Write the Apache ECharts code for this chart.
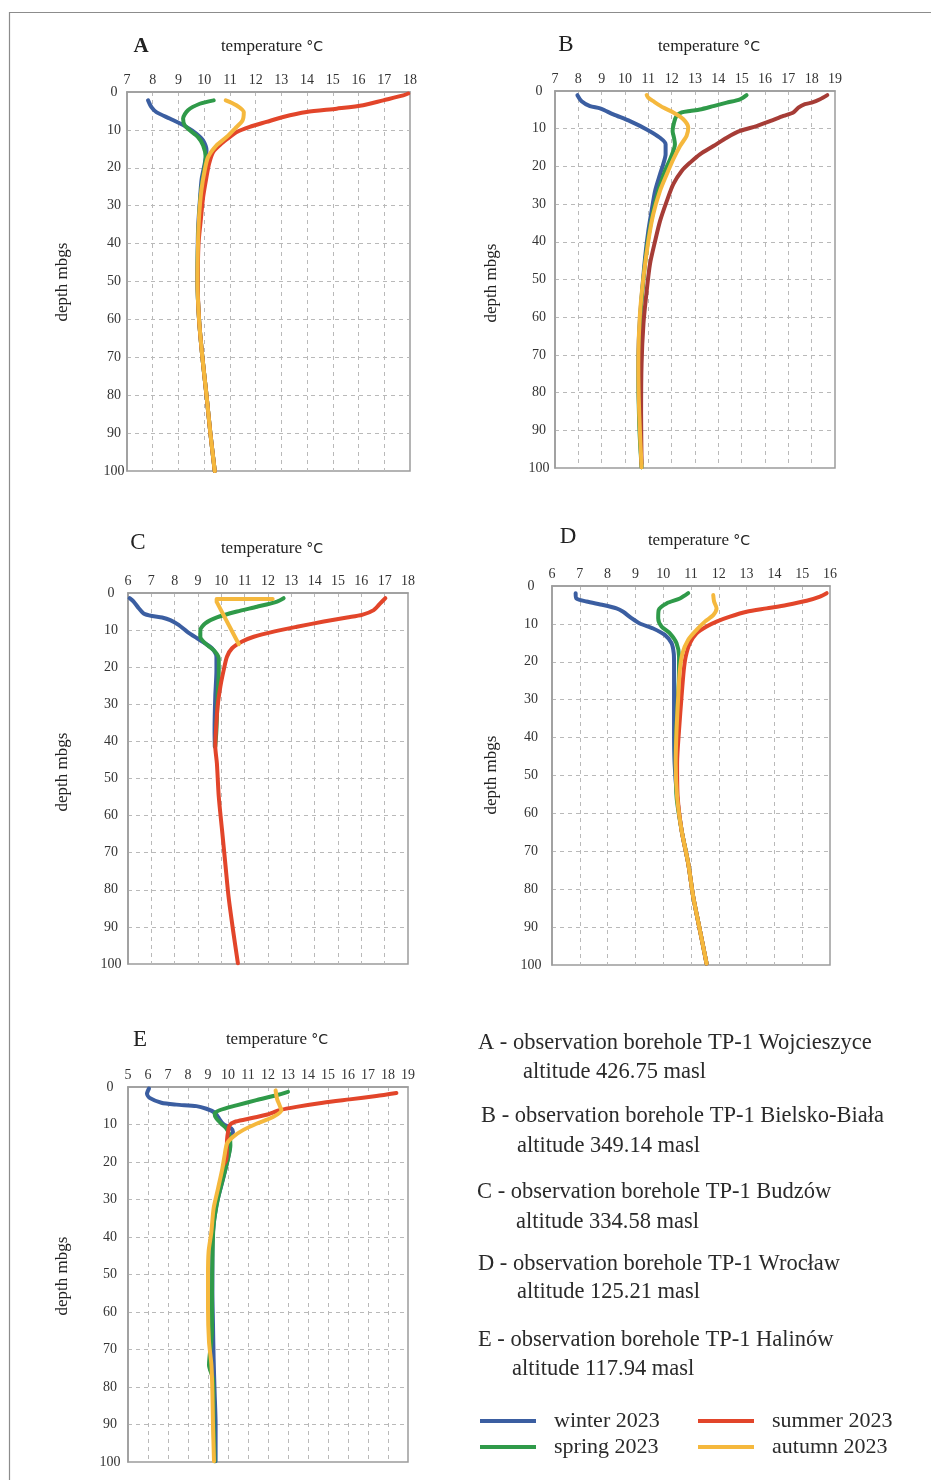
<!DOCTYPE html>
<html>
<head>
<meta charset="utf-8">
<script src="https://cdn.jsdelivr.net/npm/echarts@6/dist/echarts.min.js"></script>
<style>
html,body{margin:0;padding:0;background:#fff;}
#chart{width:931px;height:1480px;}
</style>
</head>
<body>
<div id="chart"></div>
<script>
// ---------- DATA: [temperature °C, depth m] ----------
const seasons = ['winter 2023', 'spring 2023', 'summer 2023', 'autumn 2023'];
const panelLetters = ['A', 'B', 'C', 'D', 'E'];
const xRanges = [[7, 18], [7, 19], [6, 18], [6, 16], [5, 19]];
const depthTicks = [0, 100, 10];

const A_winter = [[7.82,2.2],[7.95,4],[8.14,5.3],[8.66,7],[9.31,9.2],[9.7,11],[9.96,12.8],[10.09,15.4],[10.02,18.9],[9.9,23],[9.84,28],[9.77,35],[9.75,40],[9.74,50],[9.8,60],[9.93,70],[10.09,80],[10.24,90],[10.41,100]];
const A_spring = [[10.37,2.2],[9.83,3.1],[9.37,4.8],[9.18,7],[9.24,8.8],[9.44,10.1],[9.76,11.9],[9.96,14.1],[10.06,17.2],[10.02,19.8],[9.9,25],[9.83,30],[9.76,40],[9.74,50],[9.8,60],[9.93,70],[10.09,80],[10.24,90],[10.41,100]];
const A_summer = [[17.93,0.4],[17.74,0.9],[16.96,2.2],[16.18,3.5],[15.15,4.4],[13.98,5.3],[13.07,6.6],[12.42,7.9],[11.77,9.2],[11.25,10.6],[10.99,11.9],[10.67,13.6],[10.35,15.8],[10.19,18.9],[10.09,22.4],[9.96,27.7],[9.85,35],[9.78,40],[9.75,50],[9.8,60],[9.93,70],[10.09,80],[10.24,90],[10.41,100]];
const A_autumn = [[10.84,2.2],[11.25,3.5],[11.54,5.3],[11.49,7.5],[11.19,9.7],[10.87,11.9],[10.48,14.1],[10.15,17.2],[10.02,20.7],[9.89,26],[9.8,33],[9.76,40],[9.74,50],[9.8,60],[9.93,70],[10.09,80],[10.24,90],[10.41,100]];

const B_winter = [[7.96,1.1],[8.14,2.7],[8.5,4],[8.93,4.6],[9.5,6.2],[10.21,8],[10.93,10.2],[11.5,12.4],[11.74,14.1],[11.74,16.8],[11.64,19.4],[11.5,22.1],[11.29,26.5],[11.14,31.8],[11,37.1],[10.86,44.2],[10.71,54.8],[10.61,63.6],[10.57,72.4],[10.59,81.3],[10.64,90.1],[10.71,99.8]];
const B_spring = [[15.21,1.1],[14.93,2.2],[14.36,3.1],[13.79,4],[13.21,4.9],[12.79,5.3],[12.43,5.7],[12.21,6.6],[12.1,8.4],[12.04,10.6],[12.1,12.4],[12.14,14.1],[11.96,17.7],[11.71,21.2],[11.43,26.5],[11.21,31.8],[11,38.9],[10.82,48],[10.68,58],[10.6,68],[10.58,78],[10.62,90],[10.71,99.8]];
const B_summer = [[18.67,1.1],[18.36,2.2],[18,3.1],[17.71,3.5],[17.43,4.4],[17.21,5.7],[16.79,6.6],[16.21,8],[15.64,9.3],[14.93,10.6],[14.36,12.4],[13.79,14.6],[13.21,16.8],[12.79,19],[12.43,21.2],[12.07,24.7],[11.79,29.2],[11.5,34.5],[11.29,39.8],[11.07,45.9],[10.93,53],[10.79,61.8],[10.71,72.4],[10.69,85.7],[10.71,98.9]];
const B_autumn = [[10.93,1.1],[11,1.8],[11.21,2.7],[11.64,4.4],[12.07,5.7],[12.5,7.5],[12.71,9.7],[12.64,11.9],[12.36,14.6],[12.07,18.1],[11.79,22.1],[11.5,26.5],[11.21,32.7],[11,39.8],[10.79,49.5],[10.64,59.2],[10.57,72.4],[10.61,85.7],[10.71,99.8]];

const C_winter = [[6.07,1.4],[6.24,2.3],[6.46,4.1],[6.67,5.5],[7.03,6.2],[7.46,6.6],[7.81,7.3],[8.17,8.6],[8.53,10.4],[8.96,12.2],[9.31,13.6],[9.6,14.9],[9.79,17.2],[9.79,20.8],[9.74,27.9],[9.71,36.9],[9.72,41.4]];
const C_spring = [[12.67,1.4],[12.39,2.3],[11.53,3.7],[10.67,5],[9.81,6.6],[9.31,8.2],[9.1,10],[9.1,11.8],[9.31,13.6],[9.67,15.4],[9.89,17.6],[9.89,20.8],[9.84,27.9],[9.79,36.9],[9.74,41.4]];
const C_summer = [[17.03,1.4],[16.81,2.8],[16.53,4.6],[16.03,5.9],[15.39,6.6],[14.39,7.7],[13.24,9.1],[12.24,10.4],[11.39,11.8],[10.89,13.1],[10.46,14.9],[10.24,17.2],[10.1,20.8],[9.96,25.2],[9.84,30.6],[9.77,36.9],[9.74,41.4],[9.81,45.9],[9.89,54.9],[10.03,63.9],[10.17,72.9],[10.31,81.9],[10.5,90.8],[10.71,99.8]];
const C_autumn = [[12.2,1.6],[9.8,1.6],[9.8,2.4],[10.75,13.8]];

const D_winter = [[6.85,1.9],[6.88,3.3],[7.24,4.1],[7.84,5],[8.32,5.9],[8.56,6.8],[8.86,8.5],[9.16,9.9],[9.64,11.2],[10.06,12.9],[10.3,15.1],[10.38,17.8],[10.39,20.4],[10.39,29.2],[10.39,38],[10.41,46.8],[10.5,55.6],[10.66,64.4],[10.9,73.2],[11.08,82],[11.32,90.8],[11.56,99.6]];
const D_spring = [[10.9,1.9],[10.6,3.3],[10.12,4.6],[9.84,6.3],[9.82,8.5],[9.94,10.7],[10.24,12.5],[10.48,15.1],[10.57,18.6],[10.56,24.8],[10.5,33.6],[10.45,42.4],[10.48,55.6],[10.66,64.4],[10.9,73.2],[11.08,82],[11.32,90.8],[11.56,99.6]];
const D_summer = [[15.88,1.9],[15.64,2.8],[15.16,3.9],[14.44,5],[13.72,5.9],[13,6.8],[12.4,8.1],[11.92,9.4],[11.56,10.7],[11.2,12.5],[10.96,15.1],[10.81,18.6],[10.74,22.2],[10.66,29.2],[10.57,38],[10.5,46.8],[10.52,55.6],[10.66,64.4],[10.9,73.2],[11.08,82],[11.32,90.8],[11.56,99.6]];
const D_autumn = [[11.8,2.4],[11.83,4.1],[11.92,5.9],[11.8,7.7],[11.5,9.4],[11.2,11.6],[10.9,14.2],[10.69,17.8],[10.6,22.2],[10.54,29.2],[10.48,38],[10.45,46.8],[10.5,55.6],[10.66,64.4],[10.9,73.2],[11.08,82],[11.32,90.8],[11.56,99.6]];

const E_winter = [[6.05,0.4],[5.95,1.8],[6.08,2.9],[6.67,4.2],[7.42,4.7],[8.42,5.1],[8.92,5.8],[9.33,6.8],[9.5,8],[9.75,9.8],[10.17,11.1],[10.25,12],[10.08,13.3],[10.08,16.4],[9.92,20.9],[9.67,26.2],[9.42,31.5],[9.25,38.6],[9.22,45.7],[9.22,54.6],[9.25,63.4],[9.28,72.3],[9.33,81.2],[9.38,90.1],[9.38,99.8]];
const E_spring = [[13,1.3],[12.42,2.2],[11.42,3.5],[10.42,4.9],[9.58,6.2],[9.33,7.1],[9.42,8.4],[9.67,9.8],[9.92,11.1],[10.08,12.9],[10.12,15.5],[10,19.1],[9.75,24.4],[9.5,29.7],[9.28,36.8],[9.22,45.7],[9.2,54.6],[9.2,65],[9.05,74.1],[9.25,78],[9.28,90],[9.33,99.8]];
const E_summer = [[18.42,1.6],[17.42,2.4],[16.08,3.3],[14.75,4.2],[13.42,5.3],[12.58,6.2],[11.92,7.4],[10.92,8.6],[10.33,9.3],[10.08,10.2],[10,12],[9.95,14.2],[9.92,19.1],[9.75,21]];
const E_autumn = [[12.38,0.9],[12.45,3.1],[12.58,4.9],[12.67,6.2],[12.25,8],[11.42,9.8],[10.75,11.5],[10.25,13.3],[9.95,15.1],[9.83,18.2],[9.72,21.7],[9.5,27.1],[9.28,32.4],[9.17,38.6],[9.03,43.9],[9,50.1],[9,59],[9.05,67.9],[9.17,74.1],[9.22,81.2],[9.25,90.1],[9.3,99.8]];

const panelData = [
  [A_winter, A_spring, A_summer, A_autumn],
  [B_winter, B_spring, B_summer, B_autumn],
  [C_winter, C_spring, C_summer, C_autumn],
  [D_winter, D_spring, D_summer, D_autumn],
  [E_winter, E_spring, E_summer, E_autumn]
];

const boreholeNames = [
  'A - observation borehole TP-1 Wojcieszyce',
  'B - observation borehole TP-1 Bielsko-Biała',
  'C - observation borehole TP-1 Budzów',
  'D - observation borehole TP-1 Wrocław',
  'E - observation borehole TP-1 Halinów'
];
const altitudes = ['altitude 426.75 masl', 'altitude 349.14 masl', 'altitude 334.58 masl', 'altitude 125.21 masl', 'altitude 117.94 masl'];

// ---------- STYLE / LAYOUT ----------
const SERIF = '"Liberation Serif", "Times New Roman", serif';
const seasonColors = ['#3b5ea1', '#2f9a49', '#e2452a', '#f5b83d'];
const summerB = '#a63c36';
const grids = [
  {left: 127, top: 92, width: 283, height: 379},
  {left: 555, top: 91, width: 280, height: 377},
  {left: 128, top: 593, width: 280, height: 371},
  {left: 552, top: 586, width: 278, height: 379},
  {left: 128, top: 1087, width: 280, height: 375}
];
const yLabelMargins = [13, 16, 17, 21, 18];
const letterPos = [[141, 47, true], [566, 45, false], [138, 543, false], [568, 537, false], [140, 1040, false]];
const tempPos = [[272, 47], [709, 47], [272, 549], [699, 541], [277, 1040]];
const depthPos = [[63, 282], [492, 283], [63, 772], [492, 775], [63, 1276]];
const infoPos = [[478, 1043, 523, 1072], [481, 1116, 517, 1146], [477, 1192, 516, 1222], [478, 1264, 517, 1292], [478, 1340, 512, 1369]];

const gridOpt = [], xAxes = [], yAxes = [], series = [], graphics = [];
const dashed = {type: [4, 4], color: '#b9b9b9', width: 1};

grids.forEach((g, i) => {
  gridOpt.push(Object.assign({show: true, borderColor: '#9c9c9c', borderWidth: 1.5, backgroundColor: 'transparent'}, g));
  xAxes.push({
    type: 'value', gridIndex: i, position: 'top', min: xRanges[i][0], max: xRanges[i][1], interval: 1,
    axisLine: {show: true, onZero: false, lineStyle: {color: '#9c9c9c', width: 1.5}},
    axisTick: {show: false},
    axisLabel: {margin: 5, fontFamily: SERIF, fontSize: 14, color: '#333'},
    splitLine: {show: true, showMinLine: false, showMaxLine: false, lineStyle: dashed}
  });
  yAxes.push({
    type: 'value', gridIndex: i, inverse: true, min: depthTicks[0], max: depthTicks[1], interval: depthTicks[2],
    axisLine: {show: true, onZero: false, lineStyle: {color: '#9c9c9c', width: 1.5}},
    axisTick: {show: false},
    axisLabel: {margin: yLabelMargins[i], align: 'center', fontFamily: SERIF, fontSize: 14, color: '#333'},
    splitLine: {show: true, showMinLine: false, showMaxLine: false, lineStyle: dashed}
  });
  panelData[i].forEach((arr, s) => {
    let col = seasonColors[s];
    if (i === 1 && s === 2) col = summerB;
    series.push({
      name: seasons[s], type: 'line', xAxisIndex: i, yAxisIndex: i,
      data: arr, showSymbol: false, symbol: 'none',
      smooth: (i === 2 && s === 3) ? false : 0.25,
      lineStyle: {color: col, width: 4, cap: 'round', join: 'round'},
      itemStyle: {color: col},
      z: 3 + s, animation: false
    });
  });
  graphics.push({type: 'text', x: letterPos[i][0], y: letterPos[i][1], style: {
    text: panelLetters[i], x: 0, y: 0, textAlign: 'center', textVerticalAlign: 'middle',
    font: (letterPos[i][2] ? 'bold 21px ' : '23px ') + SERIF, fill: '#222'}});
  graphics.push({type: 'text', x: tempPos[i][0], y: tempPos[i][1], style: {
    text: '{a|temperature }{b|°C}', x: 0, y: 0, textAlign: 'center', textVerticalAlign: 'middle',
    rich: {a: {fontFamily: SERIF, fontSize: 17, fill: '#222', color: '#222'},
           b: {fontFamily: '"DejaVu Sans", sans-serif', fontSize: 14, fill: '#222', color: '#222'}}}});
  graphics.push({type: 'text', x: depthPos[i][0], y: depthPos[i][1], rotation: Math.PI / 2, style: {
    text: 'depth mbgs', x: 0, y: 0, textAlign: 'center', textVerticalAlign: 'middle',
    font: '17px ' + SERIF, fill: '#222'}});
});

boreholeNames.forEach((t, i) => {
  graphics.push({type: 'text', x: infoPos[i][0], y: infoPos[i][1], style: {
    text: t, x: 0, y: 0, textVerticalAlign: 'middle', font: '22.5px ' + SERIF, fill: '#2a2a2a'}});
  graphics.push({type: 'text', x: infoPos[i][2], y: infoPos[i][3], style: {
    text: altitudes[i], x: 0, y: 0, textVerticalAlign: 'middle', font: '22.5px ' + SERIF, fill: '#2a2a2a'}});
});

graphics.push({type: 'rect', shape: {x: 9.5, y: 12.5, width: 960, height: 1500},
  style: {fill: 'none', stroke: '#8c8c8c', lineWidth: 1.2}, silent: true});

function legendAt(left, names) {
  return {
    orient: 'vertical', left: left, top: 1404, itemWidth: 56, itemHeight: 4, itemGap: 2,
    icon: 'rect', selectedMode: false,
    data: names.map(n => ({name: n, icon: 'rect', itemStyle: {color: seasonColors[seasons.indexOf(n)]}})),
    textStyle: {fontFamily: SERIF, fontSize: 22, color: '#2a2a2a', lineHeight: 24, padding: [0, 0, 0, 13]}
  };
}

const chart = echarts.init(document.getElementById('chart'), null, {renderer: 'canvas'});
chart.setOption({
  backgroundColor: '#fff',
  animation: false,
  grid: gridOpt,
  xAxis: xAxes,
  yAxis: yAxes,
  series: series,
  legend: [legendAt(475, ['winter 2023', 'spring 2023']), legendAt(693, ['summer 2023', 'autumn 2023'])],
  graphic: graphics
});
</script>
</body>
</html>
